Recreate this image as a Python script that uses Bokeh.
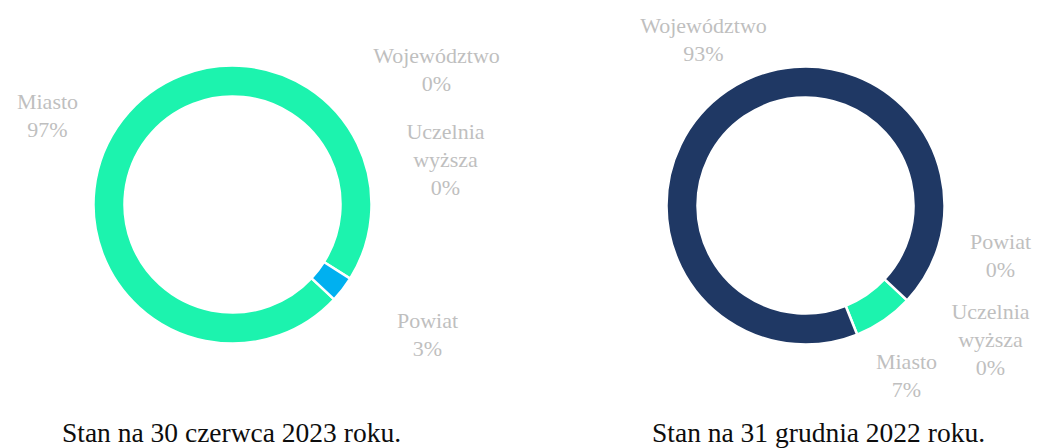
import math
from bokeh.plotting import figure
from bokeh.models import Range1d, ColumnDataSource
from bokeh.core.properties import value
from bokeh.embed import file_html
from bokeh.resources import INLINE

# ---- data ----
categories = ["Miasto", "Powiat", "Województwo", "Uczelnia wyższa"]
values_2023 = [97, 3, 0, 0]
values_2022 = [7, 0, 93, 0]
titles = ["Stan na 30 czerwca 2023 roku.", "Stan na 31 grudnia 2022 roku."]
palette = ["#1CF3AE", "#00B0F0", "#1F3864", "#A5A5A5"]

# ---- layout (the page template has no body margin) ----
W, H = 1037, 448
centers = [(232, 204), (805, 205)]
R_OUT, R_IN = 139, 108
ROTATION = 133  # degrees clockwise from 12 o'clock
label_pos = [
    {"Miasto": (47, 108), "Powiat": (427, 327), "Województwo": (436, 62), "Uczelnia wyższa": (445, 138)},
    {"Miasto": (906, 368), "Powiat": (1000, 248), "Województwo": (703, 32), "Uczelnia wyższa": (990, 318)},
]
title_pos = [(231, 439), (818, 439)]
LINE_STEP = 28
TEXT_SHIFT = 7  # rendered baseline sits this much lower than requested
LABEL_FONT = value("Liberation Serif")

p = figure(width=W, height=H, x_range=Range1d(0, W), y_range=Range1d(-H, 0),
           output_backend="svg", toolbar_location=None, min_border=0)
p.axis.visible = False
p.grid.visible = False
p.outline_line_color = None
p.background_fill_color = "white"
p.border_fill_color = "white"

for ci, vals in enumerate([values_2023, values_2022]):
    cx, cy = centers[ci]
    total = float(sum(vals))
    xs_w, ys_w, starts, ends, cols = [], [], [], [], []
    acc = ROTATION
    for v, col in zip(vals, palette):
        th0 = acc
        th1 = acc + 360.0 * v / total
        acc = th1
        if v <= 0:
            continue
        xs_w.append(cx)
        ys_w.append(-cy)
        starts.append(math.radians(90 - th0))
        ends.append(math.radians(90 - th1))
        cols.append(col)
    src = ColumnDataSource(dict(x=xs_w, y=ys_w, start=starts, end=ends, color=cols))
    p.annular_wedge(x="x", y="y", inner_radius=R_IN, outer_radius=R_OUT,
                    start_angle="start", end_angle="end", direction="clock",
                    fill_color="color", line_color="white", line_width=2.5, source=src)

    # labels
    xs, ys, ts = [], [], []
    for cat, v in zip(categories, vals):
        lx, ly = label_pos[ci][cat]
        lines = cat.split(" ") + [f"{v}%"]
        for k, t in enumerate(lines):
            xs.append(lx)
            ys.append(-(ly + k * LINE_STEP - TEXT_SHIFT))
            ts.append(t)
    p.text(x=xs, y=ys, text=ts, text_align="center", text_baseline="alphabetic",
           text_font=LABEL_FONT, text_font_size="22px", text_color="#BFBFBF")

    tx, ty = title_pos[ci]
    p.text(x=[tx], y=[-(ty - TEXT_SHIFT)], text=[titles[ci]], text_align="center",
           text_baseline="alphabetic", text_font=LABEL_FONT, text_font_size="27.5px",
           text_color="#0D0D0D")

open("out.html", "w").write(file_html(p, INLINE))
